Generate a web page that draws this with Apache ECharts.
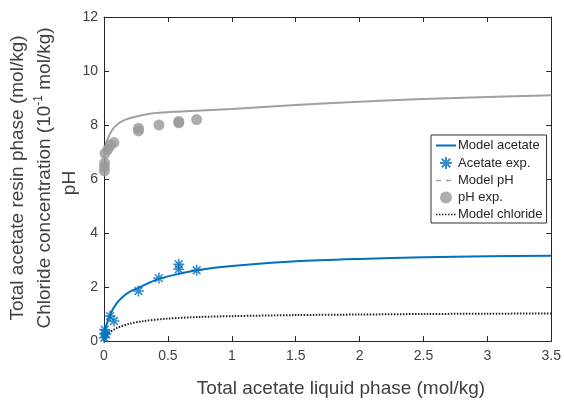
<!DOCTYPE html>
<html>
<head>
<meta charset="utf-8">
<script src="https://cdn.jsdelivr.net/npm/echarts@6/dist/echarts.min.js"></script>
<style>html,body{margin:0;padding:0;background:#fff;}#c{width:564px;height:400px;}</style>
</head>
<body>
<div id="c"></div>
<script>
// x ticks / y ticks
var xTicks = [0, 0.5, 1, 1.5, 2, 2.5, 3, 3.5];
var yTicks = [0, 2, 4, 6, 8, 10, 12];

// Model acetate curve [x, y]
var modelAcetate = [[0,0],[0.005,0.2],[0.01,0.35],[0.02,0.6],[0.05,1.0],[0.1,1.4],[0.15,1.65],[0.2,1.82],[0.27,1.97],[0.35,2.15],[0.43,2.3],[0.55,2.45],[0.725,2.62],[1,2.78],[1.5,2.95],[2,3.04],[2.5,3.1],[3,3.14],[3.5,3.16]];
// Acetate experimental
var acetateExp = [[0.002,0.12],[0.004,0.28],[0.006,0.42],[0.016,0.26],[0.047,0.92],[0.078,0.74],[0.27,1.85],[0.43,2.33],[0.585,2.84],[0.585,2.66],[0.725,2.62]];
// Model pH curve
var modelPH = [[0.002,6.8],[0.005,7.05],[0.015,7.3],[0.03,7.5],[0.05,7.7],[0.07,7.86],[0.1,8.0],[0.125,8.1],[0.2,8.25],[0.36,8.42],[0.6,8.5],[1,8.59],[1.5,8.74],[2,8.86],[2.5,8.96],[3,9.04],[3.5,9.1]];
// pH experimental
var phExp = [[0.003,6.3],[0.003,6.45],[0.005,6.6],[0.008,6.95],[0.03,7.1],[0.05,7.25],[0.078,7.35],[0.27,7.78],[0.27,7.88],[0.43,8.0],[0.585,8.08],[0.585,8.13],[0.725,8.2]];
// Model chloride curve
var modelChloride = [[0,0],[0.01,0.12],[0.03,0.25],[0.05,0.34],[0.1,0.48],[0.2,0.64],[0.3,0.73],[0.5,0.83],[0.75,0.89],[1,0.92],[1.5,0.96],[2,0.98],[2.5,1.0],[3,1.01],[3.5,1.02]];

var TXT = '#404040', AX = '#262626';
var FONT = 'Liberation Sans, Arial, sans-serif';
var star = 'path://M0,-10L0,10M-10,0L10,0M-7.07,-7.07L7.07,7.07M-7.07,7.07L7.07,-7.07';

var chart = echarts.init(document.getElementById('c'), null, {renderer: 'canvas'});
function xAx(pos, show) {
  return {
    type: 'value', position: pos, min: 0, max: 3.5, interval: 0.5,
    axisLine: {show: true, onZero: false, lineStyle: {color: AX, width: 1}},
    axisTick: {show: true, inside: true, length: 5, lineStyle: {color: AX}},
    axisLabel: {show: show, color: TXT, fontSize: 14, fontFamily: FONT, margin: 8,
      formatter: function (v) { return String(v); }},
    splitLine: {show: false}
  };
}
function yAx(pos, show) {
  return {
    type: 'value', position: pos, min: 0, max: 12, interval: 2,
    axisLine: {show: true, onZero: false, lineStyle: {color: AX, width: 1}},
    axisTick: {show: true, inside: true, length: 5, lineStyle: {color: AX}},
    axisLabel: {show: show, color: TXT, fontSize: 14, fontFamily: FONT, margin: 6},
    splitLine: {show: false}
  };
}
var hideSym = {opacity: 0};

chart.setOption({
  animation: false,
  backgroundColor: '#fff',
  textStyle: {fontFamily: FONT},
  grid: {left: 104, top: 17, right: 11, bottom: 59},
  xAxis: [xAx('bottom', true), xAx('top', false)],
  yAxis: [yAx('left', true), yAx('right', false)],
  legend: {
    orient: 'vertical', left: 431, top: 135,
    backgroundColor: '#fff', borderColor: '#333', borderWidth: 1,
    padding: [4, 4, 2, 4], itemGap: 4, itemWidth: 20, itemHeight: 12,
    textStyle: {color: '#262626', fontSize: 13, fontFamily: FONT, padding: [0, 0, 0, -3]},
    data: [
      {name: 'Model acetate', itemStyle: hideSym},
      {name: 'Acetate exp.'},
      {name: 'Model pH', itemStyle: hideSym, lineStyle: {type: [5, 5], width: 1.5}},
      {name: 'pH exp.'},
      {name: 'Model chloride', itemStyle: hideSym, lineStyle: {type: [1.5, 1.5], width: 1.5}}
    ]
  },
  series: [
    {name: 'Model acetate', type: 'line', data: modelAcetate, smooth: 0.3, symbol: 'none',
      lineStyle: {color: '#0072BD', width: 2}, itemStyle: {color: '#0072BD'}, z: 3},
    {name: 'Acetate exp.', type: 'scatter', data: acetateExp, symbol: star, symbolSize: 11,
      itemStyle: {color: '#0072BD', borderColor: '#0072BD', borderWidth: 1.6}, z: 4},
    {name: 'Model pH', type: 'line', data: modelPH, smooth: 0.3, symbol: 'none',
      lineStyle: {color: '#a0a0a0', width: 2}, itemStyle: {color: '#a0a0a0'}, z: 2},
    {name: 'pH exp.', type: 'scatter', data: phExp, symbol: 'circle', symbolSize: 11,
      itemStyle: {color: '#999999'}, z: 3},
    {name: 'Model chloride', type: 'line', data: modelChloride, smooth: 0.3, symbol: 'none',
      lineStyle: {color: '#222', width: 2, type: [1.5, 1.5]}, itemStyle: {color: '#222'}, z: 2}
  ],
  graphic: [
    {type: 'text', x: 341, y: 389,
      style: {text: 'Total acetate liquid phase (mol/kg)', fill: TXT, font: '19px ' + FONT,
        align: 'center', verticalAlign: 'middle'}},
    {type: 'text', x: 18, y: 178, rotation: Math.PI / 2,
      style: {text: 'Total acetate resin phase (mol/kg)', fill: TXT, font: '19px ' + FONT,
        align: 'center', verticalAlign: 'middle'}},
    {type: 'text', x: 45, y: 178, rotation: Math.PI / 2,
      style: {text: 'Chloride concentration (10{sup|-1} mol/kg)', fill: TXT, fontSize: 19, fontFamily: FONT,
        align: 'center', verticalAlign: 'middle',
        rich: {sup: {fontSize: 12, fill: TXT, fontFamily: FONT, padding: [0, 0, 13, 0]}}}},
    {type: 'text', x: 70, y: 183, rotation: Math.PI / 2,
      style: {text: 'pH', fill: TXT, font: '19px ' + FONT, align: 'center', verticalAlign: 'middle'}}
  ]
});
</script>
</body>
</html>
